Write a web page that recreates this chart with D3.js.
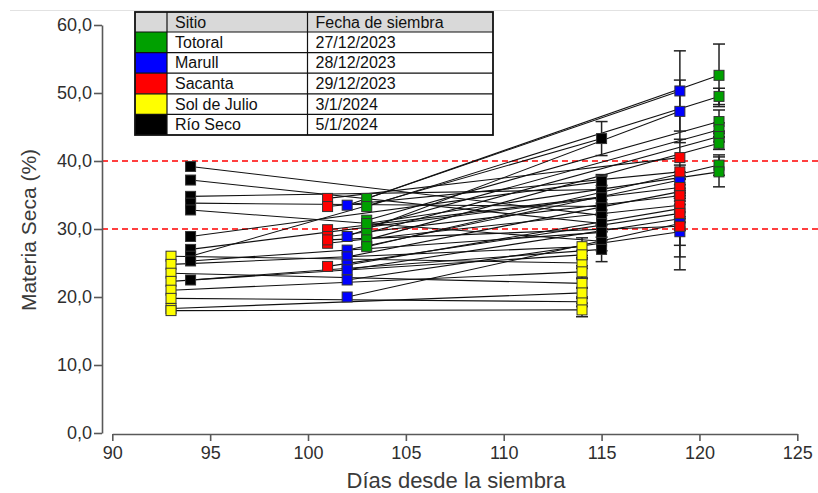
<!DOCTYPE html>
<html>
<head>
<meta charset="utf-8">
<script src="https://cdn.jsdelivr.net/npm/d3@7"></script>
<style>
  html, body { margin: 0; padding: 0; background: #fff; }
  svg { display: block; font-family: "Liberation Sans", Arial, sans-serif; }
</style>
</head>
<body>
<svg id="chart" width="818" height="493"></svg>
<script>
// Sites and sowing dates
const sites = ["Totoral", "Marull", "Sacanta", "Sol de Julio", "Río Seco"];
const sowingDates = ["27/12/2023", "28/12/2023", "29/12/2023", "3/1/2024", "5/1/2024"];

// Days after sowing of the two samplings per site
const samplingDays = [[103, 121], [102, 119], [101, 119], [93, 114], [94, 115]];

// Dry matter (%) per hybrid: first sampling, second sampling, SD of second sampling
const totoralFirst  = [34.5, 33.3, 31.3, 30.3, 29.4, 28.4, 27.4, 30.8];
const totoralSecond = [52.6, 49.5, 45.8, 44.6, 43.6, 42.6, 39.4, 38.4];
const totoralSd     = [4.6, 1.2, 1.7, 1.0, 0.8, 0.9, 1.5, 2.2];

const marullFirst  = [33.5, 28.9, 26.9, 25.9, 24.7, 24.0, 22.5, 20.0];
const marullSecond = [50.3, 47.3, 37.2, 35.5, 33.0, 31.5, 29.6, 30.8];
const marullSd     = [5.9, 4.6, 1.2, 1.0, 1.5, 3.9, 5.6, 1.0];

const sacantaFirst  = [34.5, 33.3, 29.9, 28.9, 27.9, 24.5, 28.4];
const sacantaSecond = [40.5, 38.4, 36.1, 34.9, 33.5, 32.3, 30.4];
const sacantaSd     = [2.7, 1.0, 1.2, 0.8, 1.0, 1.3, 4.5];

const solFirst  = [26.0, 24.8, 23.5, 22.3, 21.0, 19.8, 18.3, 18.0];
const solSecond = [25.0, 27.4, 22.0, 26.2, 23.7, 19.3, 20.6, 18.1];
const solSd     = [0.8, 1.3, 0.7, 0.6, 0.9, 0.7, 0.8, 1.0];

const rioFirst  = [39.2, 37.2, 34.8, 33.8, 32.8, 28.9, 27.0, 26.0, 25.3, 22.5];
const rioSecond = [32.0, 30.8, 35.8, 33.3, 28.2, 37.0, 34.6, 43.3, 29.5, 27.0];
const rioSd     = [1.5, 1.2, 2.0, 1.0, 1.4, 1.0, 1.8, 2.5, 1.2, 1.8];

// Reference thresholds (%)
const thresholds = [30, 40];

// Axis ticks
const xTicks = [90, 95, 100, 105, 110, 115, 120, 125];
const yTicks = [0, 10, 20, 30, 40, 50, 60];

// Styling
const siteColors = ["#00a000", "#0000ff", "#ff0000", "#ffff00", "#000000"];
const axisColor = "#595959";
const textColor = "#2e2e2e";

const series = [
  [totoralFirst, totoralSecond, totoralSd],
  [marullFirst, marullSecond, marullSd],
  [sacantaFirst, sacantaSecond, sacantaSd],
  [solFirst, solSecond, solSd],
  [rioFirst, rioSecond, rioSd]
].map((s, i) => ({
  site: sites[i],
  color: siteColors[i],
  days: samplingDays[i],
  hybrids: s[0].map((v, j) => ({ a: v, b: s[1][j], sd: s[2][j] }))
}));

const svg = d3.select("#chart");

const x = d3.scaleLinear().domain([90, 125]).range([112.3, 797.3]);
const y = d3.scaleLinear().domain([0, 60]).range([433, 25]);
const yAxisX = 102;
const xAxisY = 434;

// faint frame line along the top
svg.append("line")
  .attr("x1", 10).attr("x2", 818).attr("y1", 10.5).attr("y2", 10.5)
  .attr("stroke", "#e2e2e2").attr("stroke-width", 1);

// Threshold lines
svg.append("g").selectAll("line").data(thresholds).join("line")
  .attr("x1", yAxisX).attr("x2", 818)
  .attr("y1", d => y(d)).attr("y2", d => y(d))
  .attr("stroke", "#ff0000").attr("stroke-width", 1.5)
  .attr("stroke-dasharray", "6,4");

// Y axis
const fmt = d => d3.format(".1f")(d).replace(".", ",");
const yAxis = svg.append("g")
  .attr("transform", `translate(${yAxisX},0)`)
  .call(d3.axisLeft(y).tickValues(yTicks).tickFormat(fmt).tickSize(8).tickSizeOuter(0));
yAxis.select(".domain").attr("stroke", axisColor).attr("stroke-width", 1.6);
yAxis.selectAll(".tick line").attr("stroke", axisColor).attr("stroke-width", 1.6);
yAxis.selectAll(".tick text")
  .attr("x", -10).attr("fill", textColor)
  .style("font-size", "18px").style("font-family", "Liberation Sans, Arial, sans-serif");

// X axis
const xAxis = svg.append("g")
  .attr("transform", `translate(0,${xAxisY})`)
  .call(d3.axisBottom(x).tickValues(xTicks).tickFormat(d3.format("d")).tickSize(7).tickSizeOuter(0));
xAxis.select(".domain").attr("stroke", axisColor).attr("stroke-width", 1.6);
xAxis.selectAll(".tick line").attr("stroke", axisColor).attr("stroke-width", 1.6);
xAxis.selectAll(".tick text")
  .attr("y", 12).attr("fill", textColor)
  .style("font-size", "18px").style("font-family", "Liberation Sans, Arial, sans-serif");

// Axis titles
svg.append("text")
  .attr("x", 456).attr("y", 488)
  .attr("text-anchor", "middle")
  .attr("fill", "#3a3a3a")
  .style("font-size", "22px")
  .text("Días desde la siembra");

svg.append("text")
  .attr("transform", "translate(36,230) rotate(-90)")
  .attr("text-anchor", "middle")
  .attr("fill", "#3a3a3a")
  .style("font-size", "21px")
  .text("Materia Seca (%)");

// Hybrid trajectories between samplings
const plot = svg.append("g");
series.forEach(s => {
  plot.append("g").selectAll("line").data(s.hybrids).join("line")
    .attr("x1", x(s.days[0])).attr("x2", x(s.days[1]))
    .attr("y1", d => y(d.a)).attr("y2", d => y(d.b))
    .attr("stroke", "#111").attr("stroke-width", 1.1);
});

// Error bars on second sampling
const cap = 6;
series.forEach(s => {
  const g = plot.append("g");
  const cx = x(s.days[1]);
  s.hybrids.forEach(d => {
    const top = y(d.b + d.sd), bot = y(d.b - d.sd);
    g.append("line").attr("x1", cx).attr("x2", cx).attr("y1", top).attr("y2", bot)
      .attr("stroke", "#222").attr("stroke-width", 1.5);
    g.append("line").attr("x1", cx - cap).attr("x2", cx + cap).attr("y1", top).attr("y2", top)
      .attr("stroke", "#222").attr("stroke-width", 1.5);
    g.append("line").attr("x1", cx - cap).attr("x2", cx + cap).attr("y1", bot).attr("y2", bot)
      .attr("stroke", "#222").attr("stroke-width", 1.5);
  });
});

// Square markers
const sq = 10;
series.forEach(s => {
  const pts = s.hybrids.flatMap(d => [
    { day: s.days[0], v: d.a },
    { day: s.days[1], v: d.b }
  ]);
  plot.append("g").selectAll("rect").data(pts).join("rect")
    .attr("x", d => x(d.day) - sq / 2)
    .attr("y", d => y(d.v) - sq / 2)
    .attr("width", sq).attr("height", sq)
    .attr("fill", s.color)
    .attr("stroke", "#333").attr("stroke-width", 1);
});

// Legend table
const tX = 135, tY = 12;
const colW = [32, 140.5, 185.5];
const headH = 20, rowH = 20.6;
const legend = svg.append("g");
const totalW = d3.sum(colW);
const totalH = headH + rowH * sites.length;

legend.append("rect")
  .attr("x", tX).attr("y", tY).attr("width", totalW).attr("height", headH)
  .attr("fill", "#d9d9d9");

legend.selectAll("rect.sw").data(sites).join("rect")
  .attr("class", "sw")
  .attr("x", tX).attr("y", (d, i) => tY + headH + i * rowH)
  .attr("width", colW[0]).attr("height", rowH)
  .attr("fill", (d, i) => siteColors[i]);

// grid lines
const rowYs = d3.range(1, sites.length + 1).map(i => tY + headH + (i - 1) * rowH);
legend.selectAll("line.h").data(rowYs).join("line")
  .attr("x1", tX).attr("x2", tX + totalW)
  .attr("y1", d => d).attr("y2", d => d)
  .attr("stroke", "#111").attr("stroke-width", 1.2);
const colXs = [tX + colW[0], tX + colW[0] + colW[1]];
legend.selectAll("line.v").data(colXs).join("line")
  .attr("x1", d => d).attr("x2", d => d)
  .attr("y1", tY).attr("y2", tY + totalH)
  .attr("stroke", "#111").attr("stroke-width", 1.2);
legend.append("rect")
  .attr("x", tX).attr("y", tY).attr("width", totalW).attr("height", totalH)
  .attr("fill", "none").attr("stroke", "#111").attr("stroke-width", 1.8);

const headers = ["Sitio", "Fecha de siembra"];
legend.selectAll("text.hd").data(headers).join("text")
  .attr("x", (d, i) => colXs[i] + 8).attr("y", tY + 15.5)
  .attr("fill", "#111").style("font-size", "16px").text(d => d);
legend.selectAll("text.site").data(sites).join("text")
  .attr("x", colXs[0] + 8).attr("y", (d, i) => tY + headH + i * rowH + 15.8)
  .attr("fill", "#111").style("font-size", "16px").text(d => d);
legend.selectAll("text.date").data(sowingDates).join("text")
  .attr("x", colXs[1] + 8).attr("y", (d, i) => tY + headH + i * rowH + 15.8)
  .attr("fill", "#111").style("font-size", "16px").text(d => d);
</script>
</body>
</html>
